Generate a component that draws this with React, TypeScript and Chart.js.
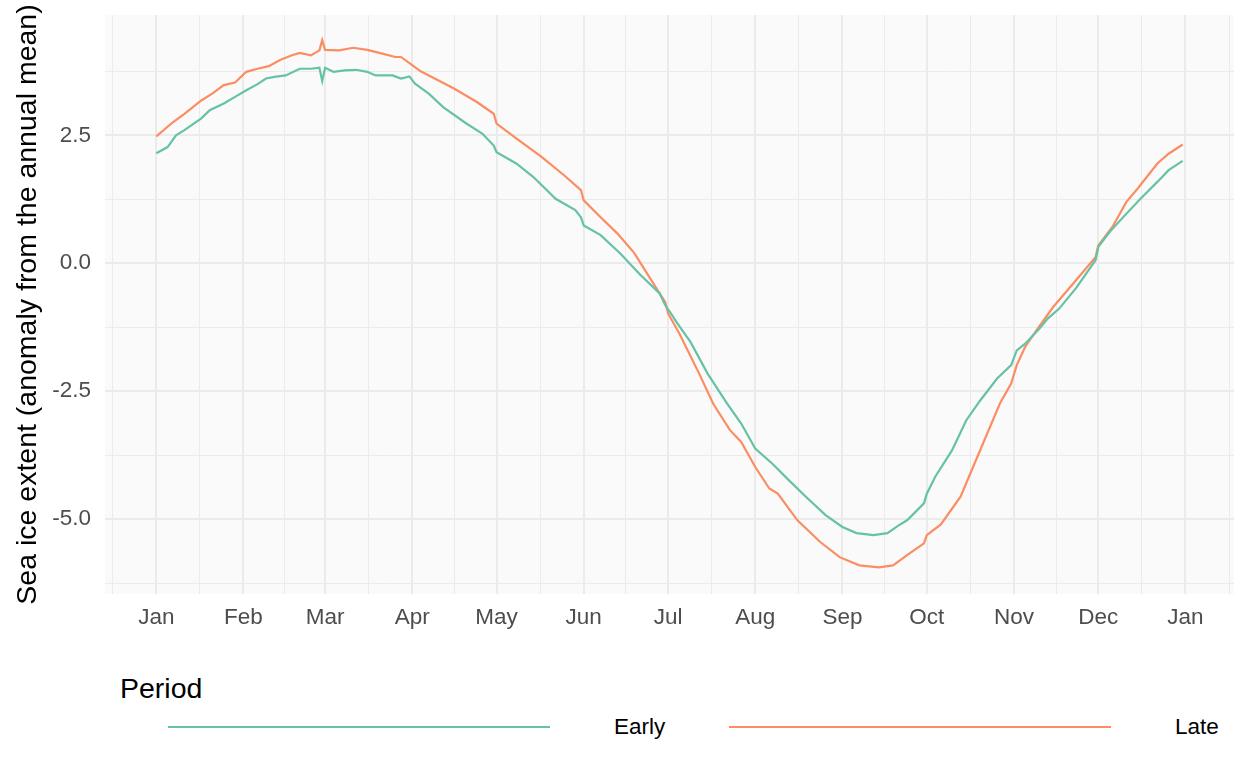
import { Chart, registerables, type ChartConfiguration, type Plugin } from "chart.js";
import { useEffect, useRef } from "react";

Chart.register(...registerables);

const FONT = '"Liberation Sans", Arial, Helvetica, sans-serif';

// month starts in days from Jan 1 (leap year), last one is next Jan 1
const monthNames = ["Jan", "Feb", "Mar", "Apr", "May", "Jun", "Jul", "Aug", "Sep", "Oct", "Nov", "Dec", "Jan"];
const monthStarts = [0, 31, 60, 91, 121, 152, 182, 213, 244, 274, 305, 335, 366];

const yMajorTicks = [-5, -2.5, 0, 2.5];
const yMinorTicks = [-6.25, -3.75, -1.25, 1.25, 3.75];

const earlyDays = [
  0, 4, 7, 10, 16, 19, 24, 28, 32, 36, 39, 42, 46, 51, 55, 58, 59, 60, 63, 67, 71, 75, 78, 84, 87, 90, 92, 97,
  102, 110, 116, 120, 121, 128, 134, 142, 149, 151, 152, 158, 165, 172, 179, 181, 183, 185, 190, 196, 203, 208,
  213, 219, 225, 231, 238, 244, 249, 255, 260, 264, 267, 273, 274, 277, 283, 288, 293, 299, 304, 306, 309, 314,
  317, 321, 327, 334, 335, 339, 345, 350, 356, 360, 365,
];
const earlyValues = [
  2.15, 2.27, 2.5, 2.6, 2.83, 2.99, 3.12, 3.25, 3.38, 3.5, 3.61, 3.64, 3.67, 3.8, 3.8, 3.82, 3.56, 3.82, 3.74,
  3.77, 3.78, 3.74, 3.67, 3.67, 3.61, 3.65, 3.51, 3.31, 3.05, 2.74, 2.53, 2.3, 2.17, 1.95, 1.69, 1.26, 1.04, 0.9,
  0.74, 0.55, 0.19, -0.22, -0.59, -0.82, -0.98, -1.15, -1.54, -2.15, -2.74, -3.13, -3.62, -3.91, -4.24, -4.56,
  -4.92, -5.15, -5.27, -5.31, -5.27, -5.12, -5.02, -4.69, -4.5, -4.17, -3.65, -3.07, -2.68, -2.25, -1.99, -1.7,
  -1.57, -1.28, -1.08, -0.89, -0.49, 0.06, 0.32, 0.61, 0.97, 1.26, 1.59, 1.82, 2.0,
];

const lateDays = [
  0, 6, 10, 16, 20, 24, 28, 32, 36, 40, 44, 48, 51, 55, 58, 59, 60, 65, 70, 75, 80, 85, 87, 91, 94, 99, 106, 114,
  120, 121, 128, 137, 145, 151, 152, 158, 164, 170, 176, 181, 182, 186, 193, 198, 204, 208, 213, 218, 221, 228,
  236, 243, 250, 257, 262, 267, 273, 274, 279, 286, 292, 296, 300, 304, 306, 309, 313, 319, 326, 334, 335, 340,
  345, 349, 356, 360, 365,
];
const lateValues = [
  2.48, 2.76, 2.92, 3.18, 3.32, 3.48, 3.53, 3.74, 3.8, 3.85, 3.97, 4.06, 4.11, 4.06, 4.16, 4.36, 4.17, 4.16, 4.21,
  4.17, 4.1, 4.03, 4.03, 3.87, 3.75, 3.61, 3.41, 3.15, 2.92, 2.73, 2.44, 2.08, 1.72, 1.43, 1.23, 0.9, 0.58, 0.2,
  -0.33, -0.76, -0.98, -1.37, -2.15, -2.74, -3.26, -3.49, -3.98, -4.4, -4.5, -5.02, -5.44, -5.74, -5.9, -5.94,
  -5.9, -5.7, -5.47, -5.31, -5.1, -4.56, -3.78, -3.26, -2.74, -2.35, -1.99, -1.63, -1.31, -0.85, -0.4, 0.12, 0.35,
  0.71, 1.2, 1.46, 1.95, 2.14, 2.32,
];

const EARLY_COLOR = "#66c2a5";
const LATE_COLOR = "#fc8d62";

// month starts plus mid-month minor breaks
const bounds = [-31, ...monthStarts, 397];
const xTicks: number[] = [];
for (let i = 0; i < bounds.length - 1; i++) {
  if (i > 0) xTicks.push(bounds[i]);
  xTicks.push((bounds[i] + bounds[i + 1]) / 2);
}
const yTicks = [...yMajorTicks, ...yMinorTicks].sort((a, b) => a - b);

const panelBackground: Plugin = {
  id: "panelBackground",
  beforeDraw(chart) {
    const { ctx, chartArea } = chart;
    ctx.save();
    ctx.fillStyle = "#fafafa";
    ctx.fillRect(chartArea.left, chartArea.top, chartArea.width, chartArea.height);
    ctx.restore();
  },
};

function toPoints(days: number[], values: number[]) {
  return days.map((d, i) => ({ x: d, y: values[i] }));
}

const config: ChartConfiguration<"line"> = {
  type: "line",
  data: {
    datasets: [
      {
        label: "Early",
        data: toPoints(earlyDays, earlyValues),
        borderColor: EARLY_COLOR,
        borderWidth: 2.2,
        pointRadius: 0,
        tension: 0,
      },
      {
        label: "Late",
        data: toPoints(lateDays, lateValues),
        borderColor: LATE_COLOR,
        borderWidth: 2.2,
        pointRadius: 0,
        tension: 0,
      },
    ],
  },
  options: {
    responsive: false,
    animation: false,
    layout: { padding: { top: 15, right: 14, left: 0, bottom: 0 } },
    plugins: {
      legend: { display: false },
      tooltip: { enabled: false },
    },
    scales: {
      x: {
        type: "linear",
        min: -18.25,
        max: 383.25,
        afterBuildTicks: (scale) => {
          scale.ticks = xTicks.map((v) => ({ value: v }));
        },
        afterFit: (scale) => {
          scale.height = 46;
          scale.paddingLeft = 0;
          scale.paddingRight = 0;
        },
        border: { display: false },
        grid: {
          drawTicks: false,
          color: "#ebebeb",
          lineWidth: (ctx) => (monthStarts.includes(ctx.tick.value) ? 2 : 1),
        },
        ticks: {
          autoSkip: false,
          maxRotation: 0,
          padding: 10,
          color: "#4d4d4d",
          font: { size: 22.5, family: FONT },
          callback: (value) => {
            const i = monthStarts.indexOf(Number(value));
            return i >= 0 ? monthNames[i] : "";
          },
        },
      },
      y: {
        type: "linear",
        min: -6.46,
        max: 4.85,
        afterBuildTicks: (scale) => {
          scale.ticks = yTicks.map((v) => ({ value: v }));
        },
        afterFit: (scale) => {
          scale.width = 105;
          scale.paddingTop = 0;
          scale.paddingBottom = 0;
        },
        border: { display: false },
        grid: {
          drawTicks: false,
          color: "#ebebeb",
          lineWidth: (ctx) => (yMajorTicks.includes(ctx.tick.value) ? 2 : 1),
        },
        ticks: {
          autoSkip: false,
          padding: 14,
          color: "#4d4d4d",
          font: { size: 22.5, family: FONT },
          callback: (value) => (yMajorTicks.includes(Number(value)) ? Number(value).toFixed(1) : ""),
        },
        title: {
          display: true,
          text: "Sea ice extent (anomaly from the annual mean)",
          color: "#000000",
          font: { size: 28.5, family: FONT, lineHeight: 1 },
          padding: { top: 14, bottom: 0 },
        },
      },
    },
  },
  plugins: [panelBackground],
};

function LegendKey({ color, left, labelLeft, label }: { color: string; left: number; labelLeft: number; label: string }) {
  return (
    <>
      <div style={{ position: "absolute", left, top: 725.8, width: 382, height: 2.5, background: color }} />
      <div
        style={{
          position: "absolute",
          left: labelLeft,
          top: 716,
          fontFamily: FONT,
          fontSize: 22.5,
          lineHeight: 1,
          color: "#000",
          whiteSpace: "nowrap",
        }}
      >
        {label}
      </div>
    </>
  );
}

export default function App() {
  const canvasRef = useRef<HTMLCanvasElement>(null);

  useEffect(() => {
    if (!canvasRef.current) {
      return undefined;
    }
    const chart = new Chart(canvasRef.current, config);
    return () => chart.destroy();
  }, []);

  return (
    <div style={{ position: "absolute", left: 0, top: 0, width: 1248, height: 768, background: "#fff", overflow: "hidden" }}>
      <canvas ref={canvasRef} width={1248} height={640} style={{ position: "absolute", left: 0, top: 0, width: 1248, height: 640 }} />
      <div
        style={{
          position: "absolute",
          left: 120,
          top: 674,
          fontFamily: FONT,
          fontSize: 28.5,
          lineHeight: 1,
          color: "#000",
        }}
      >
        Period
      </div>
      <LegendKey color={EARLY_COLOR} left={168} labelLeft={614} label="Early" />
      <LegendKey color={LATE_COLOR} left={729} labelLeft={1175} label="Late" />
    </div>
  );
}
